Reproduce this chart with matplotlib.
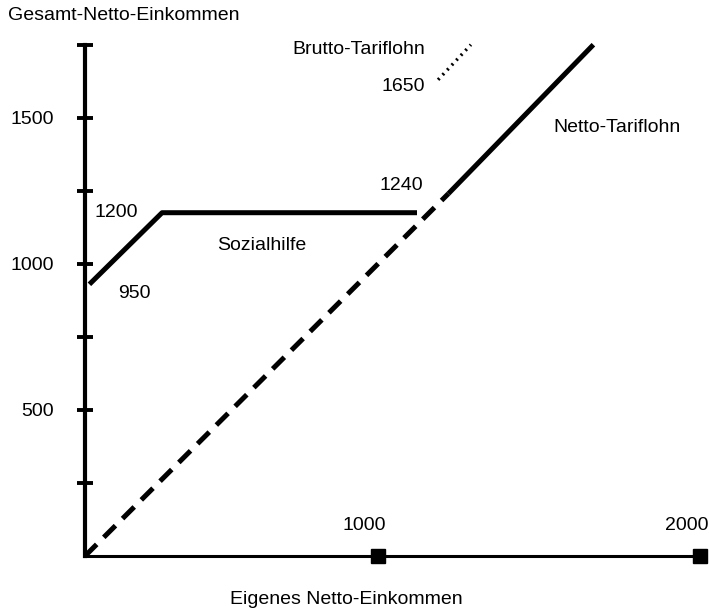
import matplotlib.pyplot as plt

plt.rcParams['font.family'] = ['Liberation Sans', 'DejaVu Sans']

# Sozialhilfe: rises from 950 to 1200, then flat
sozial_x = [15, 263, 1133]
sozial_y = [930, 1175, 1175]

# 45-degree line: dashed below 1240, solid (Netto-Tariflohn) above
dash_x = [0, 1240]
dash_y = [0, 1240]
netto_x = [1240, 1735]
netto_y = [1240, 1750]

# Brutto-Tariflohn, dotted stub from 1650
brutto_x = [1205, 1317]
brutto_y = [1630, 1750]

yticks = [250, 500, 750, 1000, 1250, 1500, 1750]
ytick_labels = ["", "500", "", "1000", "", "1500", ""]
xticks = [1000, 2100]
xtick_labels = ["1000", "2000"]

fig = plt.figure(figsize=(7.09, 6.09), dpi=100)
ax = fig.add_axes([0.1199, 0.087, 0.8745, 0.854])
ax.set_xlim(0, 2116)
ax.set_ylim(0, 1780)

ax.plot(sozial_x, sozial_y, color='black', lw=3.6, solid_capstyle='butt')
ax.plot(dash_x, dash_y, color='black', lw=3.6, dashes=(3.3, 2))
ax.plot(netto_x, netto_y, color='black', lw=3.6, solid_capstyle='butt')
ax.plot(brutto_x, brutto_y, color='black', lw=2.4, dashes=(0.6, 1.4))

# axes
for s in ['top', 'right']:
    ax.spines[s].set_visible(False)
ax.spines['left'].set_linewidth(3)
ax.spines['left'].set_bounds(0, 1750)
ax.spines['bottom'].set_linewidth(2.2)

ax.set_yticks(yticks)
ax.set_yticklabels(ytick_labels, fontsize=14)
ax.tick_params(axis='y', direction='inout', length=11, width=2.8, pad=17)
ax.set_xticks([])

# square markers on the x axis, labels above
ax.plot(xticks, [0] * len(xticks), ls='none', marker='s', ms=10,
        color='black', clip_on=False, zorder=5)
for xt, lab in zip(xticks, xtick_labels):
    ax.annotate(lab, (xt, 0), xytext=(6, 16), textcoords='offset points',
                ha='right', va='bottom', fontsize=14)

ax.text(34, 1175, "1200", ha='left', va='center', fontsize=14)
ax.text(113, 900, "950", ha='left', va='center', fontsize=14)
ax.text(604, 1062, "Sozialhilfe", ha='center', va='center', fontsize=14)
ax.text(1078, 1267, "1240", ha='center', va='center', fontsize=14)
ax.text(935, 1733, "Brutto-Tariflohn", ha='center', va='center', fontsize=14)
ax.text(1085, 1606, "1650", ha='center', va='center', fontsize=14)
ax.text(1816, 1466, "Netto-Tariflohn", ha='center', va='center', fontsize=14)

fig.text(8 / 709, 1 - 15 / 609, "Gesamt-Netto-Einkommen", ha='left',
         va='center', fontsize=14)
fig.text(346 / 709, 1 - 600 / 609, "Eigenes Netto-Einkommen", ha='center',
         va='center', fontsize=14)

fig.savefig('out.png', dpi=100)
